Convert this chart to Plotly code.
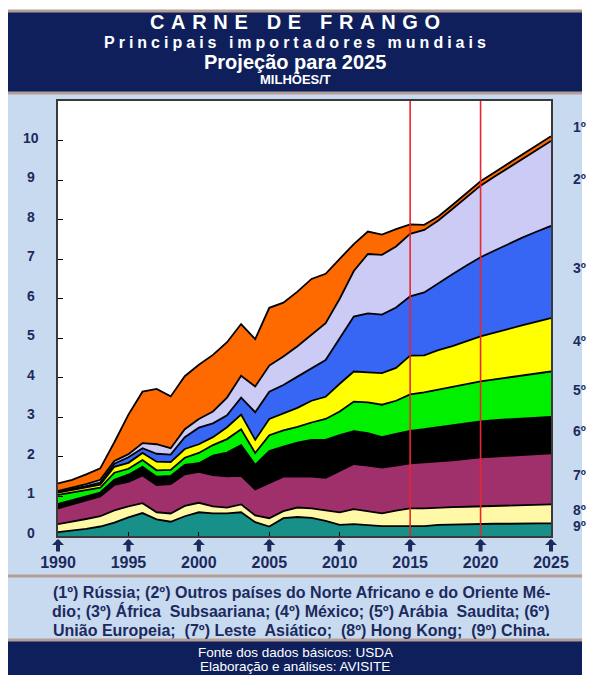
import plotly.graph_objects as go

# Chicken meat imports by region, million tonnes (1990-2025, projection from 2015)
years = list(range(1990, 2026))

china = [0.10, 0.14, 0.18, 0.24, 0.34, 0.47, 0.58, 0.42, 0.36, 0.50, 0.60, 0.57,
         0.57, 0.60, 0.35, 0.24, 0.45, 0.48, 0.46, 0.38, 0.28, 0.30, 0.28, 0.25,
         0.25, 0.25, 0.25, 0.28, 0.29, 0.30, 0.30, 0.31, 0.31, 0.32, 0.32, 0.32]
hong_kong = [0.20, 0.22, 0.25, 0.26, 0.31, 0.28, 0.25, 0.18, 0.21, 0.26, 0.24, 0.18,
             0.15, 0.20, 0.17, 0.21, 0.18, 0.24, 0.24, 0.27, 0.32, 0.38, 0.34, 0.32,
             0.39, 0.45, 0.45, 0.44, 0.44, 0.44, 0.45, 0.45, 0.46, 0.46, 0.47, 0.48]
leste_asiatico = [0.40, 0.44, 0.47, 0.50, 0.64, 0.62, 0.70, 0.69, 0.74, 0.80, 0.78, 0.79,
                  0.79, 0.72, 0.66, 0.90, 0.87, 0.78, 0.80, 0.82, 1.05, 1.14, 1.16, 1.16,
                  1.14, 1.14, 1.16, 1.16, 1.18, 1.21, 1.24, 1.25, 1.26, 1.27, 1.28, 1.29]
uniao_europeia = [0.11, 0.11, 0.10, 0.10, 0.13, 0.18, 0.22, 0.21, 0.21, 0.24, 0.22, 0.49,
                  0.60, 0.78, 0.62, 0.80, 0.76, 0.86, 0.93, 0.96, 0.90, 0.83, 0.82, 0.77,
                  0.80, 0.82, 0.84, 0.87, 0.89, 0.90, 0.91, 0.92, 0.92, 0.92, 0.92, 0.92]
arabia_saudita = [0.23, 0.19, 0.16, 0.12, 0.18, 0.15, 0.17, 0.16, 0.15, 0.18, 0.26, 0.27,
                  0.34, 0.40, 0.30, 0.40, 0.41, 0.40, 0.44, 0.53, 0.60, 0.75, 0.78, 0.82,
                  0.84, 0.92, 0.93, 0.95, 0.97, 0.99, 1.01, 1.03, 1.06, 1.09, 1.12, 1.15]
mexico = [0.06, 0.06, 0.07, 0.08, 0.15, 0.15, 0.18, 0.22, 0.20, 0.22, 0.22, 0.20,
          0.30, 0.37, 0.33, 0.41, 0.44, 0.48, 0.55, 0.56, 0.70, 0.76, 0.76, 0.80,
          0.83, 0.98, 0.94, 1.00, 1.03, 1.09, 1.14, 1.18, 1.23, 1.27, 1.31, 1.35]
africa_subsaariana = [0.02, 0.03, 0.03, 0.05, 0.08, 0.14, 0.12, 0.20, 0.19, 0.30, 0.42, 0.35,
                      0.30, 0.43, 0.70, 0.69, 0.71, 0.79, 0.83, 0.93, 1.15, 1.39, 1.49, 1.48,
                      1.53, 1.50, 1.59, 1.70, 1.82, 1.91, 2.00, 2.08, 2.15, 2.22, 2.28, 2.33]
outros_na_om = [0.02, 0.04, 0.05, 0.07, 0.07, 0.08, 0.13, 0.24, 0.16, 0.20, 0.22, 0.30,
                0.45, 0.55, 0.65, 0.66, 0.72, 0.77, 0.85, 0.93, 1.00, 1.15, 1.50, 1.51,
                1.54, 1.58, 1.58, 1.58, 1.65, 1.73, 1.81, 1.87, 1.93, 2.00, 2.08, 2.15]
russia = [0.19, 0.19, 0.25, 0.29, 0.47, 1.00, 1.30, 1.40, 1.31, 1.34, 1.37, 1.43,
          1.40, 1.31, 1.20, 1.46, 1.36, 1.38, 1.40, 1.25, 1.01, 0.68, 0.57, 0.51,
          0.44, 0.24, 0.13, 0.10, 0.10, 0.10, 0.11, 0.11, 0.11, 0.11, 0.10, 0.12]

# stacking order, bottom to top
series_names = ["China", "Hong Kong", "Leste Asiático", "União Europeia", "Arábia Saudita",
                "México", "África Subsaariana", "Outros N. Africano e O. Médio", "Rússia"]
series_values = [china, hong_kong, leste_asiatico, uniao_europeia, arabia_saudita,
                 mexico, africa_subsaariana, outros_na_om, russia]
series_colors = ["#18908a", "#fff8a6", "#a0306b", "#000000", "#00f000",
                 "#ffff00", "#3866f4", "#cbcbf6", "#ff6a00"]
rank_labels = ["9º", "8º", "7º", "6º", "5º", "4º", "3º", "2º", "1º"]

y_ticks = list(range(0, 11))
x_ticks = [1990, 1995, 2000, 2005, 2010, 2015, 2020, 2025]
projection_marks = [2015, 2020]

legend_lines = [
    "(1º) Rússia; (2º) Outros países do Norte Africano e do Oriente Mé-",
    "dio; (3º) África  Subsaariana; (4º) México; (5º) Arábia  Saudita; (6º)",
    "União Europeia;  (7º) Leste  Asiático;  (8º) Hong Kong;  (9º) China.",
]

W, H = 589, 675
L, R, T, B = 58, 551, 101, 536
NAVY = "#1c2a5e"
HEAD = "#0e1f5b"
TAN = "#b39d96"
LIGHT = "#c8daf0"
SANS = "Liberation Sans, Arial, sans-serif"
NARROW = "Liberation Sans Narrow, Arial Narrow, Liberation Sans, sans-serif"


def px(xp):
    return (xp - L) / (R - L)


def py(yp):
    return (B - yp) / (B - T)


def spaced(text, gap):
    return gap.join(text)


fig = go.Figure()
for name, vals, col in zip(series_names, series_values, series_colors):
    fig.add_trace(go.Scatter(
        x=years, y=vals, name=name, mode="lines", stackgroup="imp",
        line=dict(color="#000000", width=1.8), fillcolor=col, hoverinfo="skip",
    ))

shapes = []
# page frame: white edges, navy header and footer, tan rules
for x0, y0, x1, y1 in [(0, 0, 8, H), (582, 0, W, H), (0, 0, W, 10)]:
    shapes.append(dict(type="rect", xref="paper", yref="paper",
                       x0=px(x0), x1=px(x1), y0=py(y0), y1=py(y1),
                       fillcolor="#ffffff", line=dict(width=0), layer="below"))
shapes.append(dict(type="rect", xref="paper", yref="paper",
                   x0=px(8), x1=px(582), y0=py(10), y1=py(94),
                   fillcolor=HEAD, line=dict(width=0), layer="below"))
shapes.append(dict(type="rect", xref="paper", yref="paper",
                   x0=px(8), x1=px(582), y0=py(641), y1=py(H + 2),
                   fillcolor=HEAD, line=dict(width=0), layer="below"))
for yl in [11, 93, 576, 640]:
    shapes.append(dict(type="line", xref="paper", yref="paper",
                       x0=px(8), x1=px(582), y0=py(yl), y1=py(yl),
                       line=dict(color=TAN, width=3), layer="below"))
# projection period markers
for yr in projection_marks:
    shapes.append(dict(type="line", xref="x", yref="paper", x0=yr, x1=yr, y0=0, y1=1,
                       line=dict(color="#e8262b", width=1.6), layer="above"))

annotations = []
# header
header = [
    (spaced("CARNE DE FRANGO", "\u2004"), 20, 22, SANS),
    (spaced("Principais importadores mundiais", "\u2005"), 16, 42, SANS),
    ("Projeção para 2025", 20, 62, SANS),
    ("MILHÕES/T", 13, 80, NARROW),
]
for txt, size, yc, fam in header:
    annotations.append(dict(x=px(295), y=py(yc), xref="paper", yref="paper",
                            text=txt, showarrow=False, xanchor="center", yanchor="middle",
                            borderpad=0,
                            font=dict(family=fam, size=size, color="#ffffff", weight="bold")))

# y tick labels on the left band
for v in y_ticks:
    annotations.append(dict(x=px(31), y=v, xref="paper", yref="y", yshift=3,
                            text=str(v), showarrow=False, xanchor="center", yanchor="middle",
                            font=dict(family=SANS, size=14, color=NAVY, weight="bold")))

# rank labels at the right, level with each band in the final year
cum = 0.0
for lab, vals in zip(rank_labels, series_values):
    mid = cum + vals[-1] / 2
    cum += vals[-1]
    shift = 12 if lab == "1º" else 4
    annotations.append(dict(x=px(579), y=mid, xref="paper", yref="y", yshift=shift,
                            text=lab, showarrow=False, xanchor="center", yanchor="middle",
                            font=dict(family=SANS, size=14, color=NAVY, weight="bold")))

# arrows above the year labels
for yr in x_ticks:
    annotations.append(dict(x=yr, xref="x", y=py(539), yref="paper", text="",
                            showarrow=True, ax=0, ay=14, arrowhead=1, arrowsize=0.5,
                            arrowwidth=4, arrowcolor=NAVY))

# series key below the chart
for i, line in enumerate(legend_lines):
    annotations.append(dict(x=px(301), y=py(592 + 19 * i), xref="paper", yref="paper",
                            text=line, showarrow=False, xanchor="center", yanchor="middle",
                            font=dict(family=NARROW, size=16, color=NAVY, weight="bold")))

# footer
for i, line in enumerate(["Fonte dos dados básicos: USDA", "Elaboração e análises: AVISITE"]):
    annotations.append(dict(x=px(295), y=py(652 + 14 * i), xref="paper", yref="paper",
                            text=line, showarrow=False, xanchor="center", yanchor="middle",
                            borderpad=0,
                            font=dict(family=SANS, size=13.5, color="#ffffff")))

fig.update_layout(
    width=W, height=H,
    margin=dict(l=L, r=W - R, t=T, b=H - B, pad=0),
    paper_bgcolor=LIGHT, plot_bgcolor="#ffffff",
    showlegend=False,
    shapes=shapes, annotations=annotations,
    xaxis=dict(range=[1990, 2025], tickvals=x_ticks, ticks="inside", ticklen=4,
               tickcolor="#000000", showgrid=False, zeroline=False,
               showline=True, linecolor="#3a3a3a", linewidth=2, mirror=True,
               ticklabelstandoff=11,
               tickfont=dict(family=SANS, size=16, color=NAVY, weight="bold")),
    yaxis=dict(range=[0, 11], tickvals=y_ticks, ticks="inside", ticklen=5,
               tickcolor="#000000", showgrid=False, zeroline=False,
               showline=True, linecolor="#3a3a3a", linewidth=2, mirror=True,
               showticklabels=False),
)

fig.write_html("out.html")
